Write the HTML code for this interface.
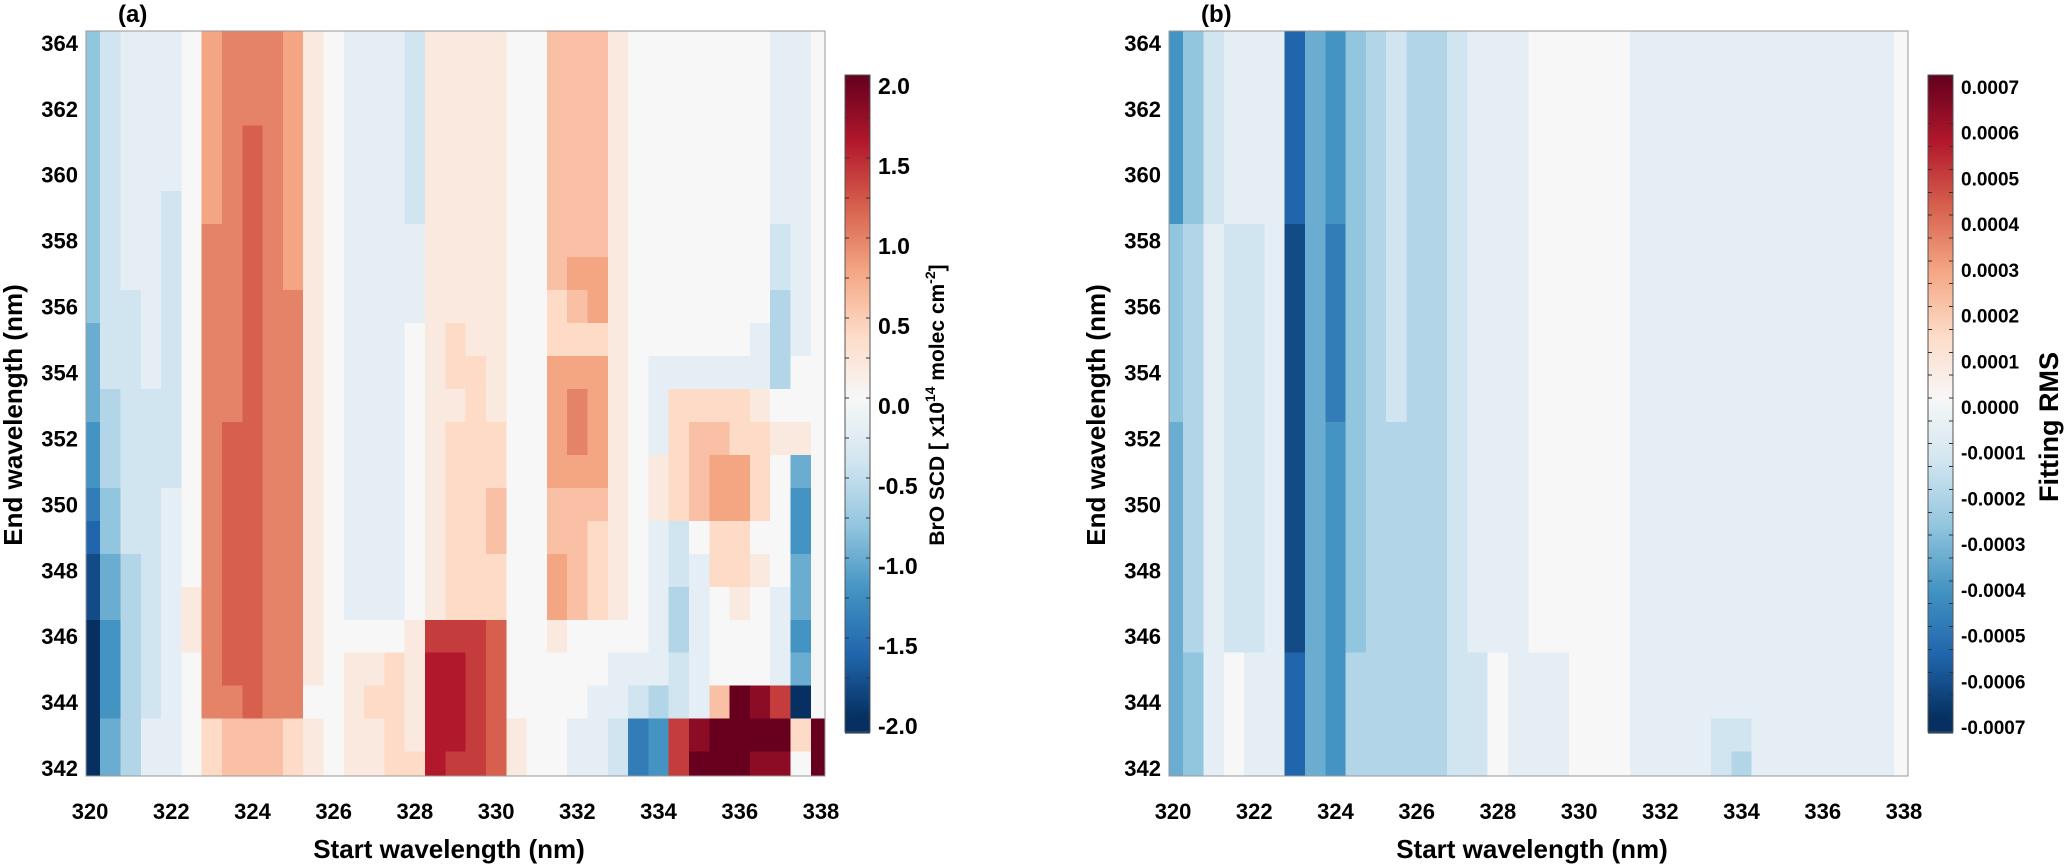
<!DOCTYPE html>
<html><head><meta charset="utf-8">
<style>
html,body{margin:0;padding:0;background:#fff;}
svg{display:block;font-family:"Liberation Sans",sans-serif;font-weight:bold;}
</style></head>
<body>
<svg id="fig" width="2067" height="865" viewBox="0 0 2067 865" xmlns="http://www.w3.org/2000/svg" shape-rendering="crispEdges">
</svg>
<script>
// ---- shared axes data ----
const startWl = [320,320.5,321,321.5,322,322.5,323,323.5,324,324.5,325,325.5,326,326.5,327,327.5,328,328.5,329,329.5,330,330.5,331,331.5,332,332.5,333,333.5,334,334.5,335,335.5,336,336.5,337,337.5,338];
const endWl = [364,363,362,361,360,359,358,357,356,355,354,353,352,351,350,349,348,347,346,345,344,343,342];
const xTicks = [320,322,324,326,328,330,332,334,336,338];
const yTicks = [342,344,346,348,350,352,354,356,358,360,362,364];
const levelAlphabet = "abcdefghijklmnopqrstu"; // 'k' = 0, each step = one level
// ---- panel (a) BrO SCD, one string per end wavelength, one char per start wavelength ----
const broRows = [
"gijjjk"+"opppol"+"kjjji"+"llllkk"+"nnnlkk"+"kkkkkjjk",
"gijjjk"+"opppol"+"kjjji"+"llllkk"+"nnnlkk"+"kkkkkjjk",
"gijjjk"+"opppol"+"kjjji"+"llllkk"+"nnnlkk"+"kkkkkjjk",
"gijjjk"+"opqpol"+"kjjji"+"llllkk"+"nnnlkk"+"kkkkkjjk",
"gijjjk"+"opqpol"+"kjjji"+"llllkk"+"nnnlkk"+"kkkkkjjk",
"gijjik"+"opqpol"+"kjjji"+"llllkk"+"nnnlkk"+"kkkkkjjk",
"gijjik"+"ppqpol"+"kjjjj"+"llllkk"+"nnnlkk"+"kkkkkijk",
"gijjik"+"ppqpol"+"kjjjj"+"llllkk"+"noolkk"+"kkkkkijk",
"giijik"+"ppqppl"+"kjjjj"+"llllkk"+"mnolkk"+"kkkkkhjk",
"fiijik"+"ppqppl"+"kjjjk"+"lmllkk"+"mmmlkk"+"kkkkjhjk",
"fiijik"+"ppqppl"+"kjjjk"+"lmmlkk"+"ooolkj"+"jjjjjhkk",
"fhiiik"+"ppqppl"+"kjjjk"+"llmlkk"+"opolkj"+"mmmmlkkk",
"ehiiik"+"pqqppl"+"kjjjk"+"lmmmkk"+"opolkj"+"mnnmmllk",
"ehiiik"+"pqqppl"+"kjjjk"+"lmmmkk"+"ooolkl"+"mnoomkfk",
"dgiijk"+"pqqppl"+"kjjjk"+"lmmnkk"+"nnnlkl"+"mnoomkek",
"cgiijk"+"pqqppl"+"kjjjk"+"lmmnkk"+"nnmlkj"+"ikmmkkek",
"bfhijk"+"pqqppl"+"kjjjk"+"lmmmkk"+"onmlkj"+"ijmmlkfk",
"bfhijl"+"pqqppl"+"kjjjk"+"lmmmkk"+"onmlkj"+"hjklkjfk",
"aehijl"+"pqqppl"+"kkkkl"+"rrrqkk"+"lkkkkj"+"hjkkkjek",
"aehijk"+"pqqppl"+"kllml"+"ssrqkk"+"kkkjjj"+"ijkkkjfk",
"aehijk"+"ppqppk"+"klmml"+"ssrqkk"+"kkjjih"+"ijnutrak",
"afhjjk"+"mnnnml"+"kllml"+"ssrqlk"+"kjjide"+"rtuuuumu",
"afhjjk"+"mnnnml"+"kllmm"+"srrqlk"+"kjjide"+"ruuuttku"
];
const broStep = 0.2;
const broTicks = [2.0,1.5,1.0,0.5,0.0,-0.5,-1.0,-1.5,-2.0];
const broTickLabels = ["2.0","1.5","1.0","0.5","0.0","-0.5","-1.0","-1.5","-2.0"];
// ---- panel (b) fitting RMS ----
const rmsRows = [
"egijjj"+"cfeghi"+"hhijj"+"jkkkkk"+"jjjjjj"+"jjjjjjjk",
"egijjj"+"cfeghi"+"hhijj"+"jkkkkk"+"jjjjjj"+"jjjjjjjk",
"egijjj"+"cfeghi"+"hhijj"+"jkkkkk"+"jjjjjj"+"jjjjjjjk",
"egijjj"+"cfeghi"+"hhijj"+"jkkkkk"+"jjjjjj"+"jjjjjjjk",
"egijjj"+"cfeghi"+"hhijj"+"jkkkkk"+"jjjjjj"+"jjjjjjjk",
"egijjj"+"cfeghi"+"hhijj"+"jkkkkk"+"jjjjjj"+"jjjjjjjk",
"ghjiij"+"bfdghi"+"hhijj"+"jkkkkk"+"jjjjjj"+"jjjjjjjk",
"ghjiij"+"bfdghi"+"hhijj"+"jkkkkk"+"jjjjjj"+"jjjjjjjk",
"ghjiij"+"bfdghi"+"hhijj"+"jkkkkk"+"jjjjjj"+"jjjjjjjk",
"ghjiij"+"bfdghi"+"hhijj"+"jkkkkk"+"jjjjjj"+"jjjjjjjk",
"ghjiij"+"bfdghi"+"hhijj"+"jkkkkk"+"jjjjjj"+"jjjjjjjk",
"ghjiij"+"bfdghi"+"hhijj"+"jkkkkk"+"jjjjjj"+"jjjjjjjk",
"fhjiij"+"bfeghh"+"hhijj"+"jkkkkk"+"jjjjjj"+"jjjjjjjk",
"fhjiij"+"bfeghh"+"hhijj"+"jkkkkk"+"jjjjjj"+"jjjjjjjk",
"fhjiij"+"bfeghh"+"hhijj"+"jkkkkk"+"jjjjjj"+"jjjjjjjk",
"fhjiij"+"bfeghh"+"hhijj"+"jkkkkk"+"jjjjjj"+"jjjjjjjk",
"fhjiij"+"bfeghh"+"hhijj"+"jkkkkk"+"jjjjjj"+"jjjjjjjk",
"fhjiij"+"bfeghh"+"hhijj"+"jkkkkk"+"jjjjjj"+"jjjjjjjk",
"fhjiij"+"bfeghh"+"hhijj"+"jkkkkk"+"jjjjjj"+"jjjjjjjk",
"fgjkjj"+"cfehhh"+"hhiik"+"jjjkkk"+"jjjjjj"+"jjjjjjjk",
"fgjkjj"+"cfehhh"+"hhiik"+"jjjkkk"+"jjjjjj"+"jjjjjjjk",
"fgjkjj"+"cfehhh"+"hhiik"+"jjjkkk"+"jjjjii"+"jjjjjjjk",
"fgjkjj"+"cfehhh"+"hhiik"+"jjjkkk"+"jjjjih"+"jjjjjjjk"
];
const rmsStep = 0.00007;
const rmsTicks = [0.0007,0.0006,0.0005,0.0004,0.0003,0.0002,0.0001,0,-0.0001,-0.0002,-0.0003,-0.0004,-0.0005,-0.0006,-0.0007];
const rmsTickLabels = ["0.0007","0.0006","0.0005","0.0004","0.0003","0.0002","0.0001","0.0000","-0.0001","-0.0002","-0.0003","-0.0004","-0.0005","-0.0006","-0.0007"];

const NS = "http://www.w3.org/2000/svg";
const svg = document.getElementById('fig');
const RDBU = ["#053061","#2166ac","#4393c3","#92c5de","#d1e5f0","#f7f7f7","#fddbc7","#f4a582","#d6604d","#b2182b","#67001f"];
function hex(h){return [parseInt(h.substr(1,2),16),parseInt(h.substr(3,2),16),parseInt(h.substr(5,2),16)];}
function color(t){
  t=Math.max(0,Math.min(1,t)); const p=t*(RDBU.length-1); const i=Math.min(RDBU.length-2,Math.floor(p)); const f=p-i;
  const a=hex(RDBU[i]), b=hex(RDBU[i+1]);
  return "rgb("+a.map((v,k)=>Math.round(v+(b[k]-v)*f)).join(",")+")";
}
function mk(tag, attrs, parent){
  const e=document.createElementNS(NS,tag);
  for(const k in attrs) e.setAttribute(k,attrs[k]);
  (parent||svg).appendChild(e); return e;
}
function txt(str, attrs, parent){const e=mk('text',attrs,parent); e.textContent=str; return e;}

function panel(o){
  const g=mk('g',{});
  
  
  const x0=o.left, x1=o.left+739, yT=31, yB=776;
  const xs=v=>x0+(v-319.9)*(739/18.2);
  const ys=v=>yT+(364.36-v)*(745/22.6);
  const vmax = o.vmax;
  const hm=mk('g',{},g);
  
  
  o.rows.forEach((row,ri)=>{
    const e=endWl[ri];
    startWl.forEach((s,ci)=>{
      const ch=row[ci]||'k';
      const val=(levelAlphabet.indexOf(ch)-10)*o.step;
      const xa=Math.max(x0,xs(s-0.25)), xb=Math.min(x1,xs(s+0.25));
      const ya=Math.max(yT,ys(e+0.5)), yb=Math.min(yB,ys(e-0.5));
      const r=mk('rect',{x:xa.toFixed(2),y:ya.toFixed(2),width:(xb-xa+0.6).toFixed(2),height:(yb-ya+0.6).toFixed(2),fill:color((val+vmax)/(2*vmax))},hm);
      
      
    });
  });
  const fr=mk('rect',{x:x0,y:yT,width:739,height:745,fill:'none',stroke:'#999','stroke-width':1},g);
  
  
  xTicks.forEach(t=>{
    const l=txt(String(t),{x:xs(t),y:819,'text-anchor':'middle','font-size':22},g);
    
    
  });
  yTicks.forEach(t=>{
    const l=txt(String(t),{x:x0-8,y:ys(t)+8,'text-anchor':'end','font-size':22},g);
    
    
  });
  const xt=txt('Start wavelength (nm)',{x:x0+363,y:858,'text-anchor':'middle','font-size':26},g);
  
  
  const yt=txt('End wavelength (nm)',{x:0,y:0,'text-anchor':'middle','font-size':26,transform:'translate('+(x0-64)+',415) rotate(-90)'},g);
  
  
  const pl=txt(o.label,{x:x0+32,y:22,'font-size':24},g);
  
  
  // colorbar
  const cb=mk('g',{},g);
  
  
  const cx=o.cbx, cw=25, cT=75, cBm=732;
  const cy=v=>398 - v/o.topTick*320;
  for(let y=cT;y<cBm;y+=2){
    const v=(398-(y+1))/320*o.topTick;
    mk('rect',{x:cx,y:y,width:cw,height:2.5,fill:color((v+vmax)/(2*vmax))},cb);
  }
  mk('rect',{x:cx,y:cT,width:cw,height:cBm-cT,fill:'none',stroke:'#555','stroke-width':1},cb);
  const minorStep=o.topTick/(o.ticks.length-1)*2/ (o.minorDiv);
  for(let v=-o.topTick; v<=o.topTick+1e-12; v+=minorStep){
    const y=cy(v);
    mk('line',{x1:cx,x2:cx+4,y1:y,y2:y,stroke:'#333','stroke-width':1},cb);
    mk('line',{x1:cx+cw-4,x2:cx+cw,y1:y,y2:y,stroke:'#333','stroke-width':1},cb);
  }
  o.ticks.forEach((t,i)=>{
    const y=cy(t);
    const l=txt(o.tickLabels[i],{x:cx+cw+8,y:y+16,'font-size':o.cbFont},cb);
    
    
  });
  return {g,cb};
}

const A=panel({name:'bro-scd-panel',left:86,rows:broRows,step:broStep,vmax:2.0,topTick:2.0,ticks:broTicks,tickLabels:broTickLabels,cbx:845,minorDiv:2,cbFont:23,label:'(a)'});
const ta=txt('',{x:0,y:0,'text-anchor':'middle','font-size':21,transform:'translate(944,405) rotate(-90)'},A.cb);


ta.innerHTML='BrO SCD [ x10<tspan dy="-9" font-size="14">14</tspan><tspan dy="9"> molec cm</tspan><tspan dy="-9" font-size="14">-2</tspan><tspan dy="9">]</tspan>';

const B=panel({name:'fitting-rms-panel',left:1169,rows:rmsRows,step:rmsStep,vmax:0.0007,topTick:0.0007,ticks:rmsTicks,tickLabels:rmsTickLabels,cbx:1928,minorDiv:2,cbFont:19,label:'(b)'});
const tb=txt('Fitting RMS',{x:0,y:0,'text-anchor':'middle','font-size':27,transform:'translate(2058,427) rotate(-90)'},B.cb);


</script>
</body></html>
